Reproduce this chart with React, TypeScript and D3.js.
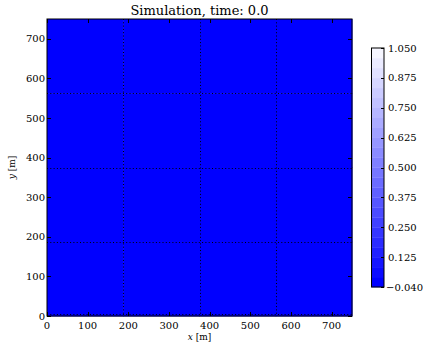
import React from "react";
import * as d3 from "d3";

const titleText = "Simulation, time: 0.0";
const xTicks = [0, 100, 200, 300, 400, 500, 600, 700];
const yTicks = [0, 100, 200, 300, 400, 500, 600, 700];
const gridLines = [187.5, 375, 562.5];
const cellEdges = [0, 187.5, 375, 562.5, 750];
// field values per cell (rows bottom->top, cols left->right)
const fieldRow0 = [-0.04, -0.04, -0.04, -0.04];
const fieldRow1 = [-0.04, -0.04, -0.04, -0.04];
const fieldRow2 = [-0.04, -0.04, -0.04, -0.04];
const fieldRow3 = [-0.04, -0.04, -0.04, -0.04];
const fieldRows = [fieldRow0, fieldRow1, fieldRow2, fieldRow3];
const cbTickLabels = ["-0.040", "0.125", "0.250", "0.375", "0.500", "0.625", "0.750", "0.875", "1.050"];
const cbBands = 24;
const vMin = -0.04;
const vMax = 1.05;

const W = 423;
const H = 347;
const px0 = 47, px1 = 352, py0 = 19, py1 = 316;
const cbx0 = 371.5, cbx1 = 384, cby0 = 48, cby1 = 287;
const font = "'DejaVu Serif', serif";

export default function App() {
  const x = d3.scaleLinear().domain([0, 750]).range([px0, px1]);
  const y = d3.scaleLinear().domain([0, 750]).range([py1, py0]);
  const cmap = d3.interpolateRgb("#0000ff", "#f6f6ff");
  const colorOf = (v: number) => {
    const t = (v - vMin) / (vMax - vMin);
    const band = Math.min(cbBands - 1, Math.max(0, Math.floor(t * cbBands)));
    return cmap(band / (cbBands - 1));
  };
  const cbY = d3.scaleLinear().domain([0, cbBands]).range([cby1, cby0]);
  const cbTickY = d3.scaleLinear().domain([0, cbTickLabels.length - 1]).range([cby1, cby0]);
  const tickLen = 4;

  return (
    <svg width={W} height={H} style={{ position: "absolute", left: 0, top: 0, background: "#fff" }}>
      <text x={(px0 + px1) / 2} y={15} textAnchor="middle" fontFamily={font} fontSize={13}>
        {titleText}
      </text>
      {fieldRows.map((row, ri) =>
        row.map((v, ci) => (
          <rect
            key={`c${ri}-${ci}`}
            x={x(cellEdges[ci])}
            y={y(cellEdges[ri + 1])}
            width={x(cellEdges[ci + 1]) - x(cellEdges[ci]) + 0.5}
            height={y(cellEdges[ri]) - y(cellEdges[ri + 1]) + 0.5}
            fill={colorOf(v)}
          />
        ))
      )}
      {gridLines.map((g) => (
        <g key={`g${g}`}>
          <line x1={Math.round(x(g)) + 0.5} x2={Math.round(x(g)) + 0.5} y1={py0} y2={py1} stroke="#000" strokeDasharray="1,2.3" strokeWidth={1} />
          <line x1={px0} x2={px1} y1={Math.round(y(g)) + 0.5} y2={Math.round(y(g)) + 0.5} stroke="#000" strokeDasharray="1,2.3" strokeWidth={1} />
        </g>
      ))}
      <line x1={px0} x2={px1} y1={py1 - 1.5} y2={py1 - 1.5} stroke="#000" strokeDasharray="1,2.3" strokeWidth={1} />
      {xTicks.map((t) => (
        <g key={`xt${t}`}>
          <line x1={Math.round(x(t)) + 0.5} x2={Math.round(x(t)) + 0.5} y1={py1} y2={py1 - tickLen} stroke="#000" />
          <line x1={Math.round(x(t)) + 0.5} x2={Math.round(x(t)) + 0.5} y1={py0} y2={py0 + tickLen} stroke="#000" />
          <text x={x(t)} y={329} textAnchor="middle" fontFamily={font} fontSize={10}>
            {t}
          </text>
        </g>
      ))}
      {yTicks.map((t) => (
        <g key={`yt${t}`}>
          <line x1={px0} x2={px0 + tickLen} y1={Math.round(y(t)) + 0.5} y2={Math.round(y(t)) + 0.5} stroke="#000" />
          <line x1={px1} x2={px1 - tickLen} y1={Math.round(y(t)) + 0.5} y2={Math.round(y(t)) + 0.5} stroke="#000" />
          <text x={45} y={y(t) + 3.5} textAnchor="end" fontFamily={font} fontSize={10}>
            {t}
          </text>
        </g>
      ))}
      <rect x={px0} y={py0} width={px1 - px0} height={py1 - py0} fill="none" stroke="#000" strokeWidth={1} />
      <text x={(px0 + px1) / 2} y={340} textAnchor="middle" fontFamily={font} fontSize={9}>
        <tspan fontStyle="italic">x</tspan> [m]
      </text>
      <text transform={`translate(15,${(py0 + py1) / 2}) rotate(-90)`} textAnchor="middle" fontFamily={font} fontSize={9}>
        <tspan fontStyle="italic">y</tspan> [m]
      </text>
      {d3.range(cbBands).map((i) => (
        <rect
          key={`cb${i}`}
          x={cbx0}
          y={cbY(i + 1)}
          width={cbx1 - cbx0}
          height={cbY(i) - cbY(i + 1) + 0.3}
          fill={cmap(i / (cbBands - 1))}
        />
      ))}
      <rect x={cbx0} y={cby0} width={cbx1 - cbx0} height={cby1 - cby0} fill="none" stroke="#000" strokeWidth={1} />
      {cbTickLabels.map((l, i) => (
        <g key={`cbt${i}`}>
          <line x1={cbx1 - 3} x2={cbx1} y1={Math.round(cbTickY(i)) + 0.5} y2={Math.round(cbTickY(i)) + 0.5} stroke="#000" />
          <text x={l.startsWith("-") ? 386 : 388} y={cbTickY(i) + 3.5} fontFamily={font} fontSize={10}>
            {l.startsWith("-") ? "\u2212" + l.slice(1) : l}
          </text>
        </g>
      ))}
    </svg>
  );
}
